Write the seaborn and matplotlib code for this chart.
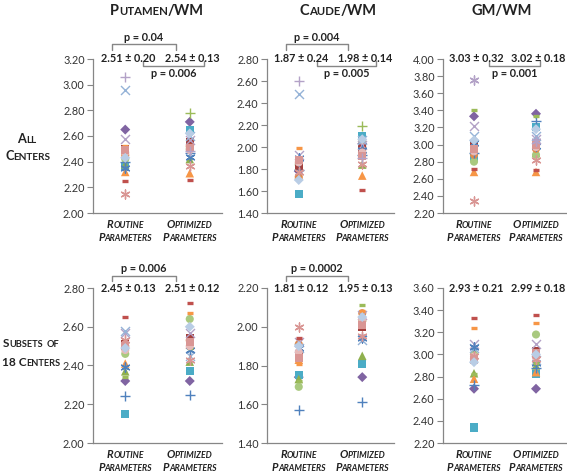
import numpy as np
import pandas as pd
import matplotlib
matplotlib.use("Agg")
import matplotlib.pyplot as plt
import seaborn as sns

sns.set_style("white")
plt.rcParams['font.family'] = ['Lato', 'DejaVu Sans']

N = np.nan

# ===== markers / colours of the centres =====
center_markers = ['D', 's', '^', '^', 'o', 'o', 's', 'x', 'x', (6, 2, 0), '+', '_', '_', '_',
                  'o', 's', (6, 2, 0), 'D', '+', '+', (6, 2, 0)]
center_colors = ['#8064A2', '#4BACC6', '#8FB04E', '#F79646', '#A9C97F', '#E08A4C', '#A4403D',
                 '#B3A2C7', '#95B3D7', '#4F81BD', '#4F81BD', '#C0504D', '#F79646', '#9BBB59',
                 '#E6B9B8', '#D99694', '#D99694', '#B9CDE5', '#B3A2C7', '#9BBB59', '#B3A2C7']

conds = ['Routine Parameters', 'Optimized Parameters']

# ===== values (routine / optimized) =====
putamen_all_r = [2.65, 2.36, 2.38, 2.32, 2.42, 2.45, 2.50, 2.58, 2.96, 2.35, 2.40, 2.25, 2.52, N, 2.47, 2.49, 2.15, 2.43, 3.06, N, N]
putamen_all_o = [2.71, 2.65, 2.42, 2.31, 2.50, 2.52, 2.55, 2.57, 2.60, 2.44, 2.47, 2.26, 2.53, N, 2.49, 2.51, 2.37, 2.62, 2.48, 2.78, N]
caude_all_r = [1.78, 1.57, 1.83, 1.75, 1.84, 1.73, 1.81, 1.93, 2.48, 1.90, 1.79, N, 1.99, N, 1.86, 1.88, 1.77, 1.70, 2.60, N, N]
caude_all_o = [2.03, 2.10, 1.84, 1.74, 2.05, 2.00, 1.99, 2.02, 2.06, 1.97, 1.93, 1.61, 1.96, N, 1.95, 1.92, 1.85, 2.07, 1.90, 2.19, N]
gm_all_r = [3.33, 2.85, 2.95, 2.68, 2.80, 2.88, 2.98, 3.22, 3.10, 3.02, 2.90, 2.72, N, 3.40, 2.92, 2.95, 2.34, 3.05, N, N, 3.76]
gm_all_o = [3.36, 3.20, 2.90, 2.68, 2.88, 2.95, 3.02, 3.07, 3.10, 2.98, 3.28, 2.70, N, 3.33, 2.97, 3.00, 2.82, 3.18, N, N, 3.04]

putamen_sub_r = [2.32, 2.15, 2.37, 2.41, 2.46, 2.50, 2.51, 2.57, 2.58, 2.39, 2.24, 2.65, 2.52, 2.34, 2.48, 2.50, 2.53, 2.49, N, N, N]
putamen_sub_o = [2.32, 2.37, 2.42, 2.51, 2.64, 2.53, 2.54, 2.57, 2.45, 2.48, 2.25, 2.72, 2.67, 2.49, 2.50, 2.52, 2.43, 2.60, N, N, N]
caude_sub_r = [1.74, 1.75, 1.73, 1.83, 1.69, 1.91, 1.85, 1.92, 1.89, 1.89, 1.57, 1.94, 1.81, 1.72, 1.87, 1.84, 2.00, 1.90, N, N, N]
caude_sub_o = [1.74, 1.81, 1.85, 2.05, 2.03, 2.07, 2.00, 2.06, 1.93, 1.94, 1.61, 2.02, 2.08, 2.11, 2.04, 2.01, 1.95, 2.05, N, N, N]
gm_sub_r = [2.69, 2.34, 2.83, 2.78, 3.00, 2.96, 2.97, 3.09, 3.06, 3.07, 2.72, 3.33, 3.24, 2.82, 2.98, 2.95, 2.99, 2.93, N, N, N]
gm_sub_o = [2.69, 2.82, 2.90, 2.84, 3.18, 2.99, 3.03, 3.09, 2.95, 2.92, 2.88, 3.36, 3.28, 2.92, 2.97, 3.01, 2.96, 3.00, N, N, N]

mean_labels = [['2.51 ± 0.20', '2.54 ± 0.13'], ['1.87 ± 0.24', '1.98 ± 0.14'], ['3.03 ± 0.32', '3.02 ± 0.18'],
               ['2.45 ± 0.13', '2.51 ± 0.12'], ['1.81 ± 0.12', '1.95 ± 0.13'], ['2.93 ± 0.21', '2.99 ± 0.18']]
p_top = ['p = 0.04', 'p = 0.004', None, 'p = 0.006', 'p = 0.0002', None]
p_low = ['p = 0.006', 'p = 0.005', 'p = 0.001', None, None, None]

col_titles = ['Putamen/WM', 'Caude/WM', 'GM/WM']
row_titles = [['All', 'Centers'], ['Subsets of', '18 Centers']]

ylims = [(2.0, 3.2), (1.4, 2.8), (2.2, 4.0), (2.0, 2.8), (1.4, 2.2), (2.2, 3.6)]
panels = [(putamen_all_r, putamen_all_o), (caude_all_r, caude_all_o), (gm_all_r, gm_all_o),
          (putamen_sub_r, putamen_sub_o), (caude_sub_r, caude_sub_o), (gm_sub_r, gm_sub_o)]

# ===== layout (pixels) =====
W, H = 567, 472
fig = plt.figure(figsize=(W / 100, H / 100), dpi=100)
col_left = [93, 267, 443]
col_width = [129, 127, 124]
row_top = [59, 288]
row_h = [154, 155]
GRAY = '#868686'
renderer = fig.canvas.get_renderer()


def small_caps(x, y, s, size, ratio=0.78, **kw):
    # x centre, y baseline, both pixels from top-left
    runs = []
    for ch in s:
        big = not ch.islower()
        sz = size if big else size * ratio
        if runs and runs[-1][1] == sz:
            runs[-1][0] += ch.upper()
        else:
            runs.append([ch.upper(), sz])
    pieces = []
    for txt, sz in runs:
        if txt == ' ':
            pieces.append((None, sz * 100 / 72 * 0.26))
            continue
        t = fig.text(0, 0, txt, fontsize=sz, ha='left', va='baseline', **kw)
        pieces.append((t, t.get_window_extent(renderer).width))
    x0 = x - sum(w for _, w in pieces) / 2
    for t, w in pieces:
        if t is not None:
            t.set_position((x0 / W, 1 - y / H))
        x0 += w


for i, (r_vals, o_vals) in enumerate(panels):
    row, col = divmod(i, 3)
    ax = fig.add_axes([col_left[col] / W, 1 - (row_top[row] + row_h[row]) / H,
                       col_width[col] / W, row_h[row] / H])
    df = pd.DataFrame({
        'center': list(range(len(r_vals))) * 2,
        'pos': [0] * len(r_vals) + [1] * len(o_vals),
        'value': list(r_vals) + list(o_vals),
    }).dropna()
    for c, grp in df.groupby('center'):
        m = center_markers[c]
        filled = m in ('D', 's', '^', 'o')
        if filled:
            size = {'D': 26, 's': 34, '^': 38, 'o': 34}[m]
            sns.scatterplot(data=grp, x='pos', y='value', marker=m, color=center_colors[c],
                            s=size, edgecolor='none', ax=ax, zorder=3)
        else:
            size = 18 if m == '_' else 42
            sns.scatterplot(data=grp, x='pos', y='value', marker=m, color=center_colors[c],
                            s=size, linewidth=2.4 if m == '_' else 1.0, ax=ax, zorder=3)
    lo, hi = ylims[i]
    ax.set_xlim(-0.5, 1.5)
    ax.set_ylim(lo, hi)
    ax.set_yticks(np.round(np.arange(lo, hi + 0.01, 0.2), 2))
    ax.yaxis.set_major_formatter(matplotlib.ticker.FormatStrFormatter('%.2f'))
    ax.set_xticks([])
    ax.set_xlabel('')
    ax.set_ylabel('')
    for side in ['top', 'right']:
        ax.spines[side].set_visible(False)
    for side in ['left', 'bottom']:
        ax.spines[side].set_color(GRAY)
        ax.spines[side].set_linewidth(0.9)
    ax.tick_params(axis='y', direction='out', length=4, width=0.8, color=GRAY,
                   labelsize=7.8, pad=2, labelcolor='#333333', left=True)

    # means on top
    for k, lab in enumerate(mean_labels[i]):
        ax.text(0.27 + 0.5 * k, 1.0, lab, transform=ax.transAxes, ha='center', va='center',
                fontsize=7.8, fontweight='bold', color='#222222')

    # brackets
    if p_top[i] is not None:
        x1, x2 = 0.15, 0.64
        yb = 1.095 if row == 0 else 1.08
        ax.plot([x1, x1, x2, x2], [yb - 0.035, yb, yb, yb - 0.035], transform=ax.transAxes,
                color=GRAY, lw=1.0, clip_on=False)
        ax.text((x1 + x2) / 2, yb + 0.012, p_top[i], transform=ax.transAxes, ha='center',
                va='bottom', fontsize=7.8, fontweight='bold', color='#222222')
    if p_low[i] is not None:
        x1, x2 = (0.39, 0.86) if col < 2 else (0.37, 0.78)
        yb = 0.955
        ax.plot([x1, x1, x2, x2], [yb + 0.03, yb, yb, yb + 0.03], transform=ax.transAxes,
                color=GRAY, lw=1.0, clip_on=False)
        ax.text((x1 + x2) / 2, yb - 0.012, p_low[i], transform=ax.transAxes, ha='center',
                va='top', fontsize=7.8, fontweight='bold', color='#222222')

    # category labels
    y_base = row_top[row] + row_h[row]
    for k, cond in enumerate(conds):
        xc = col_left[col] + col_width[col] * (0.25 + 0.5 * k)
        w1, w2 = cond.split()
        small_caps(xc, y_base + 15, w1, 8, fontweight='bold', fontstyle='italic', color='#222222')
        small_caps(xc, y_base + 28, w2, 8, fontweight='bold', fontstyle='italic', color='#222222')

# column titles
title_x = [157, 338, 502]
for x, t in zip(title_x, col_titles):
    small_caps(x, 15, t, 10.5, fontweight='bold', color='#222222')

# row titles
small_caps(27, 143, row_titles[0][0], 9.2, fontweight='bold', color='#222222')
small_caps(28, 160, row_titles[0][1], 9.2, fontweight='bold', color='#222222')
small_caps(31, 347, row_titles[1][0], 8.6, fontweight='bold', color='#222222')
small_caps(31, 366, row_titles[1][1], 8.6, fontweight='bold', color='#222222')

fig.savefig('out.png', dpi=100)
